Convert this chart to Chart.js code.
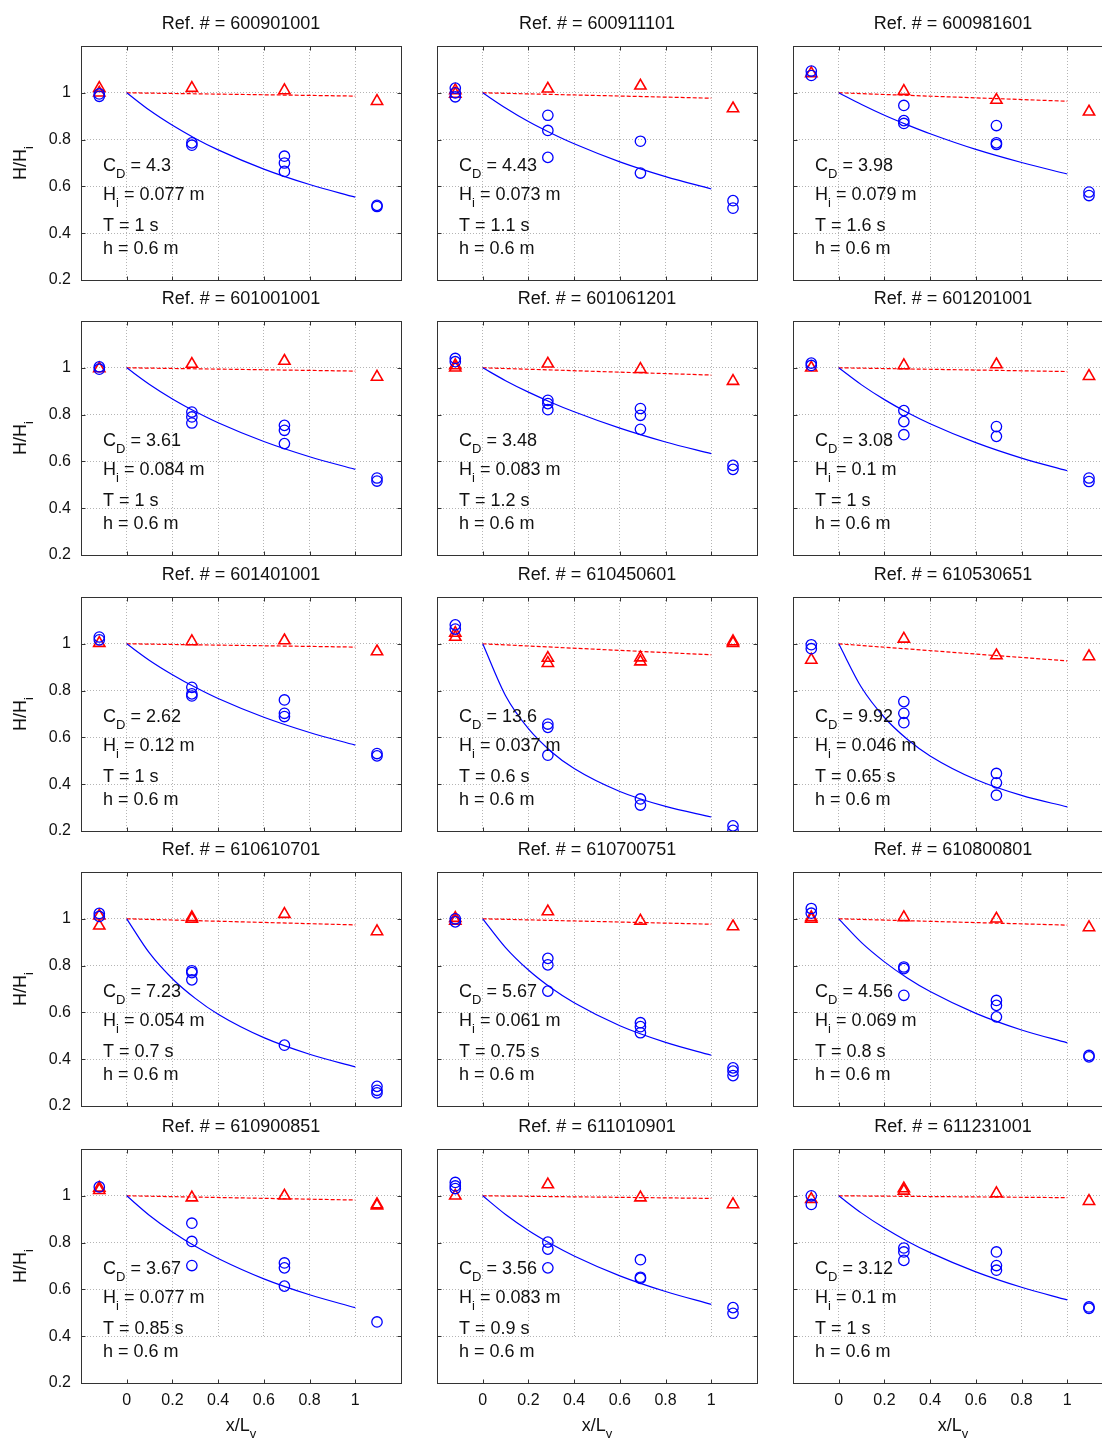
<!DOCTYPE html>
<html>
<head>
<meta charset="utf-8">
<script src="https://cdn.jsdelivr.net/npm/chart.js@4.4.0/dist/chart.umd.min.js"></script>
<style>
  html, body { margin: 0; padding: 0; background: #fff; overflow: hidden; }
  body { width: 1102px; height: 1439px; position: relative; }
  canvas { position: absolute; }
</style>
</head>
<body>
<script>
// --- data ---
const refs = ['600901001', '600911101', '600981601',
              '601001001', '601061201', '601201001',
              '601401001', '610450601', '610530651',
              '610610701', '610700751', '610800801',
              '610900851', '611010901', '611231001'];
const cdText = ['4.3', '4.43', '3.98', '3.61', '3.48', '3.08', '2.62', '13.6', '9.92', '7.23', '5.67', '4.56', '3.67', '3.56', '3.12'];
const hiText = ['0.077', '0.073', '0.079', '0.084', '0.083', '0.1', '0.12', '0.037', '0.046', '0.054', '0.061', '0.069', '0.077', '0.083', '0.1'];
const periodText = ['1', '1.1', '1.6', '1', '1.2', '1', '1', '0.6', '0.65', '0.7', '0.75', '0.8', '0.85', '0.9', '1'];
const depthText = ['0.6', '0.6', '0.6', '0.6', '0.6', '0.6', '0.6', '0.6', '0.6', '0.6', '0.6', '0.6', '0.6', '0.6', '0.6'];

// gauge positions x/Lv, measured H/Hi at each gauge (circles = with vegetation, triangles = without)
const gaugeX = [-0.12, 0.285, 0.69, 1.095];
const circleY = [
  [[0.995, 0.985], [0.786, 0.776], [0.729, 0.700, 0.664], [0.519, 0.514]],
  [[1.02, 1.0, 0.983], [0.904, 0.839, 0.724], [0.793, 0.657], [0.539, 0.507]],
  [[1.093, 1.074], [0.946, 0.881, 0.869], [0.86, 0.786, 0.779], [0.576, 0.561]],
  [[1.004, 0.994], [0.811, 0.79, 0.764], [0.754, 0.733, 0.676], [0.529, 0.516]],
  [[1.04, 1.026], [0.861, 0.847, 0.821], [0.826, 0.797, 0.737], [0.583, 0.566]],
  [[1.02, 1.01], [0.817, 0.77, 0.714], [0.749, 0.707], [0.529, 0.514]],
  [[1.029, 1.017], [0.814, 0.786, 0.777], [0.76, 0.703, 0.689], [0.531, 0.521]],
  [[1.081, 1.063], [0.657, 0.643, 0.524], [0.337, 0.311], [0.222, 0.203]],
  [[0.996, 0.979], [0.753, 0.703, 0.663], [0.446, 0.406, 0.353], []],
  [[1.023, 1.01], [0.778, 0.77, 0.739], [0.46], [0.284, 0.267, 0.256]],
  [[1.0, 0.987], [0.831, 0.803, 0.691], [0.556, 0.539, 0.513], [0.363, 0.349, 0.33]],
  [[1.044, 1.024], [0.794, 0.787, 0.673], [0.651, 0.63, 0.581], [0.416, 0.41]],
  [[1.038], [0.883, 0.805, 0.702], [0.713, 0.692, 0.614], [0.461]],
  [[1.057, 1.042, 1.031], [0.802, 0.772, 0.692], [0.727, 0.652, 0.647], [0.522, 0.498]],
  [[1.0, 0.963], [0.777, 0.76, 0.724], [0.76, 0.702, 0.682], [0.525, 0.519]]
];
const triangleY = [
  [[1.02, 1.0], [1.02], [1.01], [0.964]],
  [[1.01, 0.995], [1.017], [1.03], [0.933]],
  [[1.083], [1.007], [0.969], [0.919]],
  [[0.997], [1.016], [1.029], [0.961]],
  [[1.0, 1.01], [1.017], [0.994], [0.943]],
  [[1.0], [1.01], [1.014], [0.964]],
  [[1.003], [1.01], [1.014], [0.967]],
  [[1.046, 1.029], [0.939, 0.917], [0.941, 0.924], [1.01, 1.003]],
  [[0.931], [1.021], [0.95], [0.946]],
  [[1.013, 0.97], [1.006, 0.999], [1.02], [0.946]],
  [[1.003, 0.991], [1.031], [0.991], [0.967]],
  [[1.006, 0.999], [1.006], [1.0], [0.963]],
  [[1.034, 1.024], [0.992], [1.0], [0.963, 0.958]],
  [[1.0], [1.048], [0.992], [0.963]],
  [[0.986], [1.031, 1.021], [1.01], [0.977]]
];

// fitted decay curve (blue) sampled along the vegetated reach
const fitX = [0, 0.1, 0.2, 0.3, 0.4, 0.6, 0.8, 1];
const fitY = [
  [1, 0.925, 0.861, 0.805, 0.756, 0.674, 0.608, 0.554],
  [1, 0.935, 0.877, 0.827, 0.782, 0.705, 0.642, 0.589],
  [1, 0.950, 0.904, 0.863, 0.825, 0.758, 0.702, 0.653],
  [1, 0.929, 0.867, 0.813, 0.765, 0.685, 0.620, 0.566],
  [1, 0.945, 0.896, 0.852, 0.812, 0.742, 0.683, 0.633],
  [1, 0.927, 0.864, 0.809, 0.761, 0.680, 0.614, 0.560],
  [1, 0.929, 0.868, 0.814, 0.766, 0.686, 0.621, 0.567],
  [1, 0.778, 0.637, 0.539, 0.467, 0.369, 0.305, 0.260],
  [1, 0.813, 0.685, 0.592, 0.521, 0.420, 0.352, 0.303],
  [1, 0.853, 0.744, 0.660, 0.592, 0.492, 0.421, 0.367],
  [1, 0.877, 0.781, 0.704, 0.641, 0.543, 0.472, 0.417],
  [1, 0.898, 0.816, 0.747, 0.689, 0.596, 0.525, 0.470],
  [1, 0.916, 0.845, 0.784, 0.732, 0.645, 0.577, 0.522],
  [1, 0.920, 0.852, 0.794, 0.743, 0.658, 0.591, 0.536],
  [1, 0.926, 0.862, 0.806, 0.757, 0.675, 0.609, 0.555]
];
// bare-flume loss line (red dashed)
const lossX = [0, 1];
const lossStartY = 1;
const lossEndY = [0.986, 0.977, 0.964, 0.986, 0.969, 0.984, 0.986, 0.953, 0.927, 0.974, 0.977, 0.973, 0.982, 0.989, 0.992];

const xTicks = [0, 0.2, 0.4, 0.6, 0.8, 1];
const xTickLabels = ['0', '0.2', '0.4', '0.6', '0.8', '1'];
const yTicks = [0.2, 0.4, 0.6, 0.8, 1];
const yTickLabels = ['0.2', '0.4', '0.6', '0.8', '1'];

// --- layout ---
const FONT = '"Liberation Sans", Arial, Helvetica, sans-serif';
const colL = [81, 437, 793];
const rowT = [46, 321, 597, 872, 1149];
const plotW = 320, plotH = 234;
const padL = 80, padT = 46, padR = 20, padB = 60;
const INK = '#111';

function partsWidth(ctx, parts) {
  let w = 0;
  for (const p of parts) {
    ctx.font = (p.sub ? '13px ' : '18px ') + FONT;
    w += ctx.measureText(p.t).width;
  }
  return w;
}
function drawParts(ctx, x, y, parts) {
  let cx = x;
  for (const p of parts) {
    ctx.font = (p.sub ? '13px ' : '18px ') + FONT;
    ctx.fillText(p.t, cx, p.sub ? y + 7 : y);
    cx += ctx.measureText(p.t).width;
  }
}

const panelDecor = {
  id: 'panelDecor',
  beforeDatasetsDraw(chart, args, opts) {
    const { ctx, chartArea: a, scales } = chart;
    ctx.save();
    if (opts.clearBelow) {
      const yc = Math.round(scales.y.getPixelForValue(opts.clearBelow));
      ctx.fillStyle = '#fff';
      ctx.fillRect(a.left + 1, yc + 1, a.right - a.left - 2, a.bottom - yc - 1);
    }
    ctx.strokeStyle = '#333';
    ctx.lineWidth = 1;
    const l = Math.round(a.left) + 0.5, r = Math.round(a.right) + 0.5;
    const t = Math.round(a.top) + 0.5, b = Math.round(a.bottom) + 0.5;
    ctx.strokeRect(l, t, r - l, b - t);
    ctx.beginPath();
    xTicks.forEach(v => {
      const px = Math.round(scales.x.getPixelForValue(v)) + 0.5;
      ctx.moveTo(px, b); ctx.lineTo(px, b - 4);
      ctx.moveTo(px, t); ctx.lineTo(px, t + 4);
    });
    yTicks.forEach(v => {
      const py = Math.round(scales.y.getPixelForValue(v)) + 0.5;
      ctx.moveTo(l, py); ctx.lineTo(l + 4, py);
      ctx.moveTo(r, py); ctx.lineTo(r - 4, py);
    });
    ctx.stroke();
    ctx.restore();
  },
  afterDatasetsDraw(chart, args, opts) {
    const { ctx, chartArea: a } = chart;
    const i = opts.index;
    ctx.save();
    ctx.fillStyle = INK;
    ctx.textBaseline = 'alphabetic';
    // title
    ctx.textAlign = 'center';
    ctx.font = '18px ' + FONT;
    ctx.fillText('Ref. # = ' + refs[i], (a.left + a.right) / 2, a.top - 17);
    ctx.textAlign = 'left';
    // annotation block
    const lines = [
      [{ t: 'C' }, { t: 'D', sub: true }, { t: ' = ' + cdText[i] }],
      [{ t: 'H' }, { t: 'i', sub: true }, { t: ' = ' + hiText[i] + ' m' }],
      [{ t: 'T = ' + periodText[i] + ' s' }],
      [{ t: 'h = ' + depthText[i] + ' m' }]
    ];
    const base = [125, 154, 185, 208];
    lines.forEach((ln, k) => drawParts(ctx, a.left + 22, a.top + base[k], ln));
    // axis titles
    if (opts.yTitle) {
      const parts = [{ t: 'H/H' }, { t: 'i', sub: true }];
      const w = partsWidth(ctx, parts);
      ctx.save();
      ctx.translate(a.left - 55, (a.top + a.bottom) / 2);
      ctx.rotate(-Math.PI / 2);
      drawParts(ctx, -w / 2, 0, parts);
      ctx.restore();
    }
    if (opts.xTitle) {
      const parts = [{ t: 'x/L' }, { t: 'v', sub: true }];
      const w = partsWidth(ctx, parts);
      drawParts(ctx, (a.left + a.right) / 2 - w / 2, a.bottom + 48, parts);
    }
    ctx.restore();
  }
};

refs.forEach((ref, i) => {
  const row = Math.floor(i / 3), col = i % 3;
  const isLeft = col === 0, isBottom = row === 4;
  const cv = document.createElement('canvas');
  cv.width = plotW + padL + padR;
  cv.height = plotH + padT + padB;
  cv.style.left = (colL[col] - padL) + 'px';
  cv.style.top = (rowT[row] - padT) + 'px';
  document.body.appendChild(cv);

  const circles = gaugeX.flatMap((gx, g) => circleY[i][g].map(y => ({ x: gx, y })));
  const triangles = gaugeX.flatMap((gx, g) => triangleY[i][g].map(y => ({ x: gx, y })));
  const fit = fitX.map((x, k) => ({ x, y: fitY[i][k] }));
  const loss = [{ x: lossX[0], y: lossStartY }, { x: lossX[1], y: lossEndY[i] }];

  new Chart(cv.getContext('2d'), {
    type: 'scatter',
    data: {
      datasets: [
        { data: fit, showLine: true, borderColor: '#0000ff', borderWidth: 1.2, pointRadius: 0,
          cubicInterpolationMode: 'monotone', fill: false },
        { data: loss, showLine: true, borderColor: '#ff0000', borderWidth: 1.2, borderDash: [4, 2],
          pointRadius: 0, fill: false },
        { data: circles, pointStyle: 'circle', pointRadius: 5.2, pointBorderWidth: 1.3,
          pointBorderColor: '#0000ff', pointBackgroundColor: 'rgba(0,0,0,0)', showLine: false },
        { data: triangles, pointStyle: 'triangle', pointRadius: 6.5, pointBorderWidth: 1.6,
          pointBorderColor: '#ff0000', pointBackgroundColor: 'rgba(0,0,0,0)', showLine: false }
      ]
    },
    options: {
      responsive: false,
      animation: false,
      events: [],
      layout: { padding: { left: 0, top: padT, right: padR, bottom: 0 } },
      plugins: {
        legend: { display: false },
        tooltip: { enabled: false },
        panelDecor: { index: i, yTitle: isLeft, xTitle: isBottom, clearBelow: isBottom ? 0.4 : 0 }
      },
      scales: {
        x: {
          type: 'linear', min: -0.2, max: 1.2,
          afterBuildTicks: s => { s.ticks = xTicks.map(v => ({ value: v })); },
          afterFit: s => { s.height = padB; },
          grid: { color: '#b4b4b4', lineWidth: 1, drawTicks: false },
          border: { display: false, dash: [1, 2] },
          ticks: { display: isBottom, padding: 8, color: INK, font: { family: FONT, size: 16 },
                   maxRotation: 0, callback: (v, k) => xTickLabels[k] }
        },
        y: {
          type: 'linear', min: 0.2, max: 1.2,
          afterBuildTicks: s => { s.ticks = yTicks.map(v => ({ value: v })); },
          afterFit: s => { s.width = padL; },
          grid: { color: '#b4b4b4', lineWidth: 1, drawTicks: false },
          border: { display: false, dash: [1, 2] },
          ticks: { display: isLeft, padding: 10, color: INK, font: { family: FONT, size: 16 },
                   callback: (v, k) => yTickLabels[k] }
        }
      }
    },
    plugins: [panelDecor]
  });
});
</script>
</body>
</html>
